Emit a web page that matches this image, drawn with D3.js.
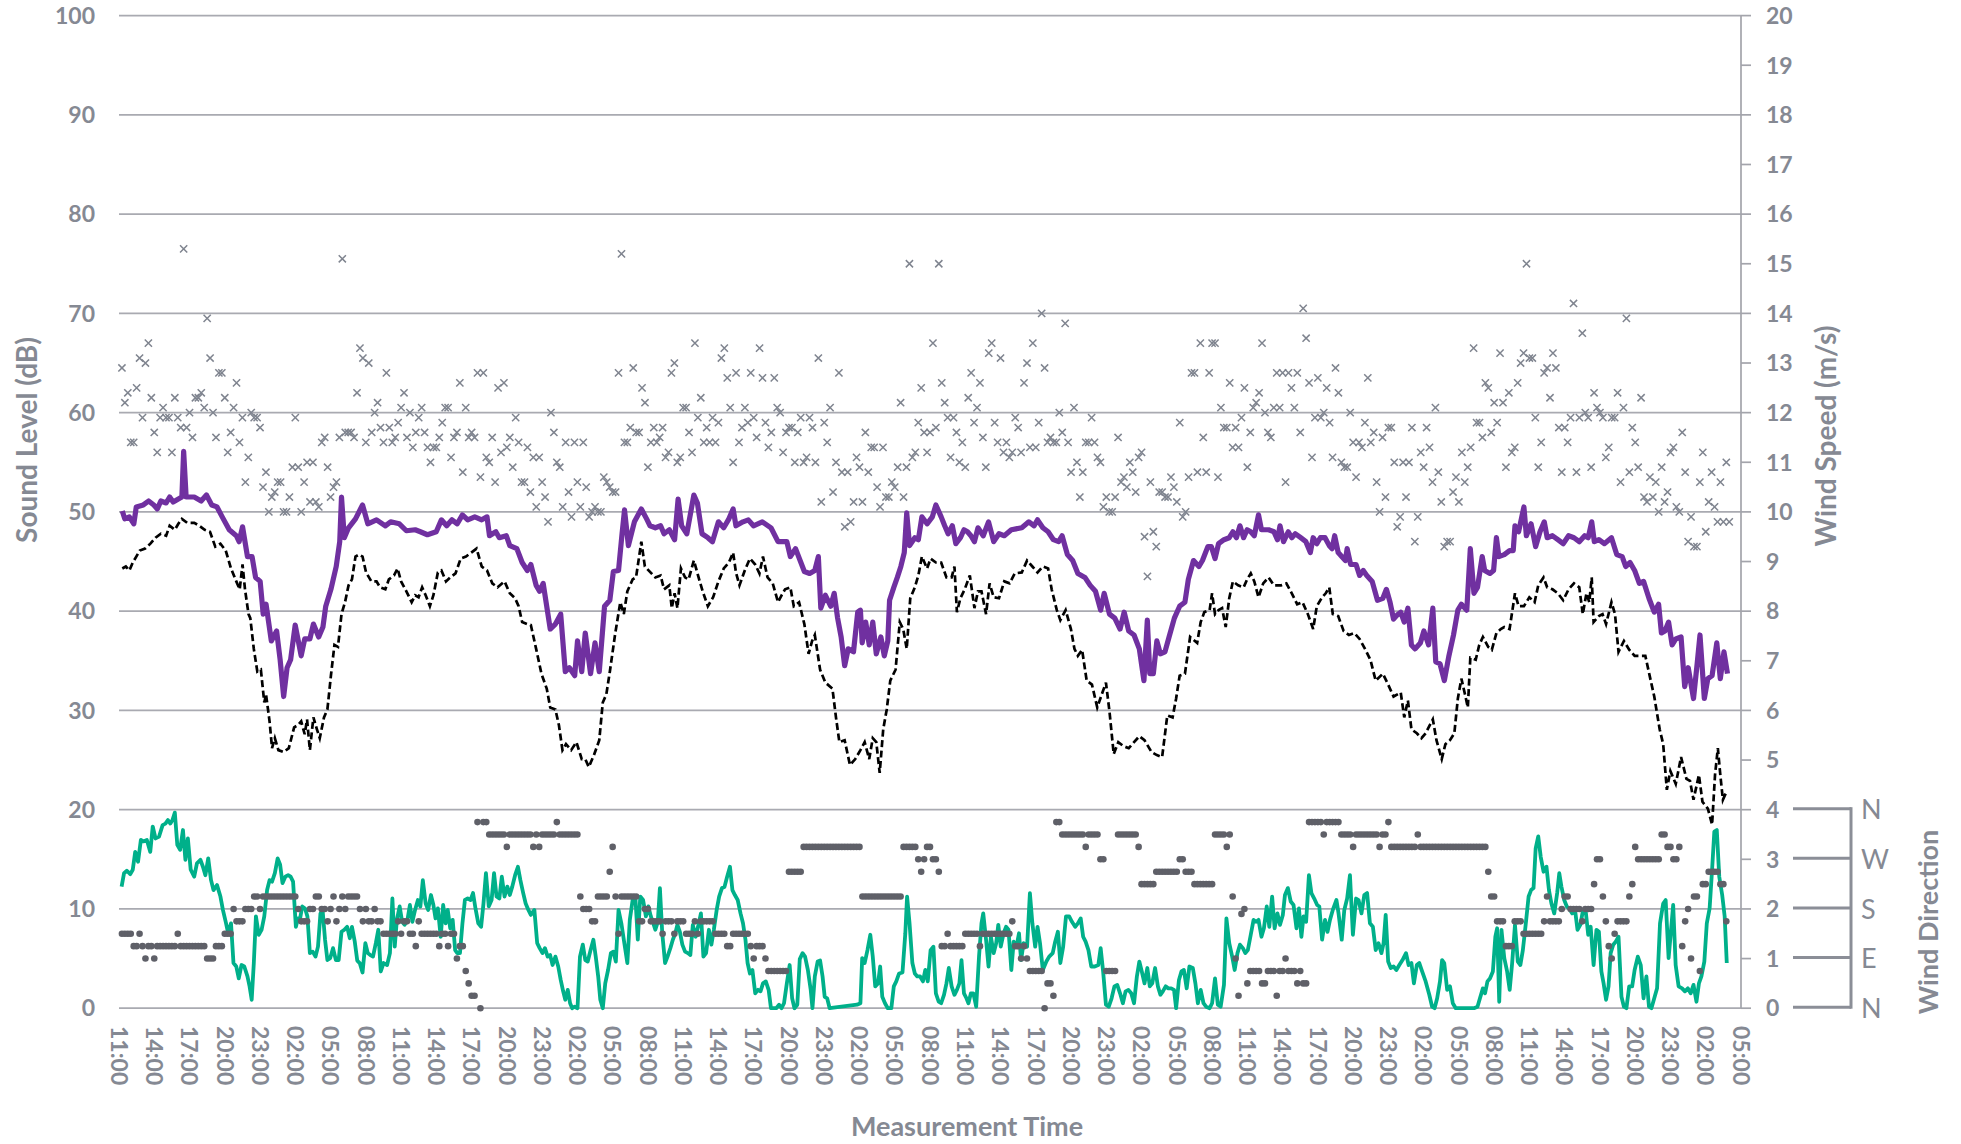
<!DOCTYPE html>
<html><head><meta charset="utf-8">
<script src="https://cdn.jsdelivr.net/npm/d3@7"></script>
<style>body{margin:0;background:#fff}svg{display:block}</style>
</head><body><svg id="c" width="1961" height="1144"></svg>
<script>
// ---------- DATA (hours since 11:00 on day 1) ----------
const xTickLabels = ["11:00","14:00","17:00","20:00","23:00","02:00","05:00","08:00",
"11:00","14:00","17:00","20:00","23:00","02:00","05:00","08:00",
"11:00","14:00","17:00","20:00","23:00","02:00","05:00","08:00",
"11:00","14:00","17:00","20:00","23:00","02:00","05:00","08:00",
"11:00","14:00","17:00","20:00","23:00","02:00","05:00","08:00",
"11:00","14:00","17:00","20:00","23:00","02:00","05:00"];
const leftTicks = [0,10,20,30,40,50,60,70,80,90,100];
const rightTicks = [0,1,2,3,4,5,6,7,8,9,10,11,12,13,14,15,16,17,18,19,20];
const dirTicks = [0,1,2,3,4];
const dirLabels = ["N","E","S","W","N"];

// Sound level, LAeq (dB) – [hour, dB]
const soundLevel = [[0.28,50.1],[0.49,49.3],[0.88,49.5],[1.26,48.8],[1.47,50.5],[2.07,50.7],[2.52,51.1],[2.96,50.7],[3.26,50.3],[3.56,51.1],[4.01,50.9],[4.31,51.5],[4.61,51.0],[5.05,51.3],[5.35,51.5],[5.50,56.1],[5.71,51.5],[6.40,51.5],[6.99,51.1],[7.44,51.7],[7.89,50.7],[8.34,50.5],[8.78,49.5],[9.38,48.2],[9.98,47.6],[10.22,47.0],[10.51,48.5],[10.93,45.5],[11.32,45.5],[11.62,43.4],[12.01,43.0],[12.27,39.7],[12.51,40.7],[12.96,37.0],[13.41,38.0],[13.71,35.1],[14.01,31.4],[14.30,34.3],[14.60,35.1],[14.99,38.6],[15.50,35.5],[15.80,37.2],[16.24,37.2],[16.54,38.7],[16.99,37.4],[17.35,38.4],[17.59,40.5],[18.03,42.2],[18.48,44.5],[18.78,47.0],[18.93,51.5],[19.17,47.4],[19.53,48.4],[20.12,49.3],[20.72,50.7],[21.17,48.8],[21.91,49.2],[22.66,48.6],[23.11,49.0],[23.85,48.8],[24.45,48.1],[25.20,48.2],[25.64,48.0],[26.24,47.7],[26.99,48.0],[27.43,49.2],[27.88,48.6],[28.33,49.2],[28.78,48.8],[29.22,49.7],[29.67,49.2],[30.27,49.5],[30.86,49.2],[31.31,49.5],[31.52,47.6],[32.06,48.0],[32.36,47.4],[32.95,47.6],[33.25,46.6],[33.85,46.3],[34.30,44.9],[34.74,44.1],[35.04,44.7],[35.49,42.6],[35.79,42.0],[36.09,42.8],[36.69,38.2],[37.13,38.7],[37.58,39.7],[37.97,33.9],[38.32,34.3],[38.77,33.5],[39.01,37.0],[39.37,33.9],[39.67,37.8],[40.12,33.7],[40.50,36.8],[40.86,33.9],[41.31,40.5],[41.76,41.1],[42.06,44.0],[42.50,44.1],[42.80,47.8],[43.01,50.2],[43.34,46.6],[43.85,49.0],[44.44,50.3],[44.89,49.3],
[45.18,48.6],[45.63,48.4],[46.08,48.6],[46.37,47.8],[46.82,48.2],[47.27,47.2],[47.57,51.3],[47.87,48.6],[48.31,47.8],[48.91,51.7],[49.21,50.9],[49.60,47.8],[50.10,47.4],[50.49,47.0],[51.00,49.0],[51.45,48.4],[51.89,49.3],[52.25,50.3],[52.49,48.6],[53.09,49.0],[53.54,49.2],[53.98,48.6],[54.73,49.0],[55.47,48.4],[56.07,47.0],[56.82,47.0],[57.12,45.5],[57.56,46.3],[58.31,44.0],[58.76,43.8],[59.20,44.1],[59.50,45.5],[59.71,40.3],[60.10,41.6],[60.55,40.5],[60.85,41.8],[61.14,39.3],[61.44,37.4],[61.74,34.5],[62.04,36.2],[62.49,35.9],[62.85,39.9],[63.08,40.1],[63.23,36.8],[63.53,38.9],[63.83,36.6],[64.13,38.9],[64.43,35.7],[64.82,37.4],[65.11,35.5],[65.41,37.0],[65.56,41.1],[65.92,42.4],[66.22,43.4],[66.52,44.5],[66.81,45.9],[67.02,49.9],[67.26,46.6],[67.71,47.4],[68.01,47.2],[68.31,49.5],[68.75,48.8],[69.20,49.5],[69.50,50.7],[69.95,49.5],[70.25,48.6],[70.54,47.8],[70.90,48.6],[71.20,46.8],[71.59,47.4],[71.89,48.2],[72.19,48.0],[72.48,47.6],[72.78,47.0],[73.08,48.4],[73.53,47.6],[73.98,49.0],[74.42,47.0],[74.87,47.8],[75.32,47.6],[75.92,48.2],[76.81,48.4],[77.41,49.0],[77.86,48.6],[78.15,49.2],[78.60,48.4],[79.05,48.0],[79.50,47.2],[79.94,47.0],[80.24,47.6],[80.69,45.7],[81.14,45.1],[81.58,43.8],[82.18,43.4],[82.63,42.6],[83.08,42.0],[83.52,40.1],[83.82,41.8],[84.27,39.7],[84.72,39.3],[85.17,38.2],[85.52,39.9],[85.91,38.0],[86.36,37.6],[86.81,36.2],[87.20,33.0],[87.49,39.1],[87.70,33.7],[88.00,33.7],[88.30,37.0],[88.60,35.7],[88.99,35.9],[89.34,37.4],[89.79,39.3],[90.24,40.5],[90.69,40.9],[90.98,43.2],
[91.42,45.1],[91.88,44.5],[92.18,45.1],[92.64,46.5],[92.94,46.5],[93.25,45.3],[93.55,46.8],[94.01,47.2],[94.46,47.4],[94.77,48.0],[95.07,47.4],[95.37,48.6],[95.68,47.4],[95.98,48.2],[96.29,48.0],[96.59,47.6],[96.95,49.7],[97.20,48.2],[97.81,48.2],[98.26,48.0],[98.56,47.2],[98.78,48.6],[99.08,47.0],[99.48,48.0],[99.78,47.4],[100.08,47.8],[100.54,47.4],[100.98,47.0],[101.36,45.9],[101.60,47.4],[101.91,46.8],[102.21,47.4],[102.61,47.4],[102.97,46.6],[103.21,46.3],[103.43,47.6],[103.73,45.9],[104.03,45.5],[104.34,45.1],[104.49,46.3],[104.79,44.7],[105.25,44.7],[105.55,43.6],[105.86,44.1],[106.16,43.6],[106.62,43.0],[107.07,41.1],[107.53,41.3],[107.83,42.2],[108.14,40.9],[108.44,39.2],[108.74,39.6],[109.05,39.9],[109.35,38.9],[109.66,40.3],[109.96,36.6],[110.26,36.2],[110.72,36.8],[111.02,38.0],[111.42,36.6],[111.78,40.3],[112.03,34.9],[112.39,34.7],[112.76,33.0],[113.15,35.5],[113.54,37.6],[113.91,40.1],[114.21,40.7],[114.67,40.1],[114.97,46.3],[115.28,41.8],[115.58,42.4],[115.98,45.5],[116.19,44.1],[116.64,43.8],[116.95,44.1],[117.19,47.4],[117.40,45.5],[117.86,45.7],[118.31,46.1],[118.62,46.1],[118.77,48.6],[119.08,48.0],[119.53,50.5],[119.74,47.6],[120.14,48.8],[120.53,46.5],[120.90,48.0],[121.26,49.0],[121.51,47.4],[121.96,47.6],[122.42,47.2],[122.87,46.8],[123.33,47.6],[123.79,47.4],[124.24,47.0],[124.70,47.6],[125.00,47.4],[125.30,49.0],[125.52,47.0],[125.91,47.2],[126.37,46.8],[126.98,47.4],[127.43,45.7],[127.89,45.5],[128.19,44.5],[128.56,44.9],[128.95,44.1],[129.35,42.8],[129.71,43.0],[130.17,41.3],[130.62,39.9],[130.99,40.7],[131.23,37.8],[131.53,38.0],[131.84,38.9],[132.14,36.6],[132.45,37.2],[132.90,37.4],[133.21,32.4],[133.51,34.3],[133.96,31.2],[134.27,34.7],[134.51,37.6],[134.88,31.2],[135.18,33.2],[135.54,33.5],[135.94,36.8],[136.24,33.2],[136.55,35.9],[136.85,33.7]];

// Background sound level, L90 (dB) – [hour, dB]
const backgroundLevel = [[0.28,44.3],[0.58,44.5],[0.88,44.1],[1.17,44.9],[1.47,45.5],[1.77,46.1],[2.22,46.3],[2.67,46.8],[3.11,47.4],[3.56,47.8],[4.01,47.6],[4.31,48.6],[4.75,48.2],[5.05,48.8],[5.35,49.3],[5.80,48.9],[6.40,48.9],[6.84,48.6],[7.29,48.2],[7.74,48.0],[8.19,46.5],[8.63,46.8],[9.08,46.1],[9.53,44.3],[9.98,43.0],[10.27,42.2],[10.51,44.7],[10.72,42.2],[11.02,39.7],[11.17,39.3],[11.47,36.2],[11.77,33.9],[12.07,34.1],[12.36,30.8],[12.51,31.6],[12.81,28.9],[13.02,26.2],[13.26,27.2],[13.56,26.0],[14.01,25.8],[14.45,26.2],[14.90,28.3],[15.20,28.5],[15.50,28.9],[15.80,27.6],[16.00,29.1],[16.24,26.0],[16.54,29.3],[16.84,28.1],[17.08,27.2],[17.44,29.3],[17.73,30.1],[18.03,33.5],[18.33,36.6],[18.63,36.4],[18.93,39.7],[19.23,40.9],[19.53,42.6],[19.82,43.2],[20.12,45.5],[20.42,45.7],[20.72,45.5],[21.02,43.9],[21.47,43.0],[21.91,43.0],[22.21,42.4],[22.66,42.2],[22.96,43.2],[23.40,43.6],[23.70,44.3],[24.00,43.0],[24.45,42.0],[24.90,40.9],[25.20,41.6],[25.49,41.4],[25.79,42.4],[26.09,41.6],[26.45,40.5],[26.75,41.6],[27.13,43.9],[27.43,44.1],[27.82,43.0],[28.18,43.4],[28.63,43.8],[29.07,45.3],[29.52,45.5],[29.97,45.9],[30.42,46.3],[30.86,44.5],[31.31,44.1],[31.76,42.8],[32.21,42.4],[32.80,43.0],[33.25,41.8],[33.70,41.3],[34.00,40.5],[34.30,38.9],[34.74,38.7],[35.04,38.6],[35.49,36.2],[35.94,33.7],[36.39,32.2],[36.69,30.3],[37.13,30.1],[37.43,28.5],[37.73,26.0],[38.03,26.6],[38.47,26.0],[38.92,26.8],[39.37,25.1],[39.67,25.1],[39.97,24.3],[40.41,25.5],[40.86,27.0],[41.16,30.8],[41.46,31.6],[41.76,33.9],[42.20,37.6],[42.65,40.9],[42.95,39.7],[43.25,42.0],[43.70,43.2],[43.99,43.4],[44.44,47.0],[44.74,44.5],
[45.63,43.4],[46.08,43.6],[46.37,42.2],[46.82,42.6],[47.03,40.3],[47.27,41.8],[47.51,40.3],[47.81,44.3],[48.16,43.4],[48.46,43.2],[48.91,45.1],[49.36,43.2],[49.66,42.0],[50.10,40.5],[50.55,41.4],[51.00,43.0],[51.45,44.3],[51.89,44.9],[52.25,45.9],[52.49,43.9],[52.79,42.6],[53.24,44.1],[53.68,45.3],[54.13,44.7],[54.49,43.8],[54.79,45.5],[55.18,43.4],[55.62,42.8],[56.07,40.9],[56.37,41.6],[56.67,42.2],[57.12,42.4],[57.41,40.5],[57.86,40.9],[58.31,38.7],[58.67,35.7],[58.97,37.0],[59.20,37.6],[59.65,34.1],[60.10,32.8],[60.70,32.2],[61.00,29.3],[61.29,26.8],[61.74,27.0],[62.19,24.5],[62.64,25.1],[63.08,26.0],[63.44,26.8],[63.83,25.1],[64.13,27.2],[64.43,26.8],[64.72,23.7],[65.02,28.1],[65.32,30.1],[65.62,33.0],[66.07,34.1],[66.43,38.9],[66.72,38.2],[67.02,36.2],[67.32,41.3],[67.71,42.4],[68.01,43.6],[68.31,45.5],[68.75,44.3],[69.05,45.3],[69.50,44.9],[69.95,44.9],[70.40,43.4],[70.84,43.4],[71.08,44.5],[71.29,39.9],[71.59,41.3],[71.95,42.2],[72.39,43.6],[72.78,40.3],[73.08,42.0],[73.38,42.0],[73.77,39.7],[74.07,42.8],[74.42,41.4],[74.87,41.3],[75.32,43.0],[75.77,42.8],[76.21,43.8],[76.81,43.9],[77.26,45.1],[77.71,44.5],[78.15,43.9],[78.60,44.5],[79.05,44.3],[79.35,42.2],[79.79,40.1],[80.09,39.1],[80.54,40.1],[80.99,38.2],[81.29,36.2],[81.58,35.5],[81.94,36.1],[82.33,33.0],[82.78,32.6],[83.23,30.3],[83.67,31.8],[83.97,32.8],[84.27,29.9],[84.63,25.6],[85.02,26.8],[85.46,26.4],[85.91,26.2],[86.36,26.8],[86.81,27.4],[87.25,27.0],[87.85,25.8],[88.30,25.5],[88.75,25.3],[89.19,29.5],[89.64,29.3],[89.94,31.2],[90.24,33.5],[90.69,33.7],[91.13,37.4],
[91.73,36.8],[92.03,38.9],[92.34,39.9],[92.79,40.1],[93.00,41.8],[93.25,39.7],[93.55,40.1],[93.85,40.3],[94.16,38.4],[94.46,41.3],[94.77,43.0],[95.22,42.6],[95.68,42.4],[95.98,43.2],[96.29,43.8],[96.59,43.0],[96.95,41.4],[97.35,42.8],[97.81,43.4],[98.26,42.6],[98.87,42.6],[99.32,42.8],[99.78,41.8],[100.24,40.7],[100.69,40.9],[101.15,39.7],[101.60,38.2],[101.91,40.5],[102.36,41.4],[102.67,41.8],[102.97,42.4],[103.27,39.7],[103.73,39.5],[104.19,38.0],[104.64,37.6],[105.10,37.8],[105.55,37.2],[106.01,36.2],[106.47,35.1],[106.92,33.0],[107.53,33.7],[107.98,32.6],[108.44,31.4],[109.05,31.8],[109.35,29.3],[109.66,31.0],[109.96,28.1],[110.42,27.7],[110.81,27.2],[111.17,27.7],[111.78,29.1],[112.09,27.0],[112.54,25.1],[112.85,26.6],[113.24,27.0],[113.61,27.7],[113.91,31.2],[114.21,33.2],[114.52,31.6],[114.76,30.3],[114.97,35.3],[115.43,35.1],[115.73,36.6],[116.04,37.4],[116.49,36.4],[116.80,36.1],[117.19,37.8],[117.56,38.2],[117.86,38.4],[118.31,38.2],[118.77,41.8],[119.08,40.5],[119.53,40.5],[119.99,41.4],[120.44,40.9],[120.75,42.6],[121.20,43.4],[121.51,42.4],[121.96,42.2],[122.42,41.8],[122.87,41.1],[123.33,42.2],[123.79,42.8],[124.24,42.4],[124.54,39.7],[124.85,41.8],[125.09,40.9],[125.30,43.4],[125.46,38.9],[125.91,39.5],[126.22,39.7],[126.52,38.7],[126.98,40.9],[127.28,39.7],[127.58,35.9],[128.04,37.0],[128.50,36.1],[128.95,35.5],[129.41,35.5],[129.86,35.5],[130.32,33.0],[130.62,31.4],[131.08,28.1],[131.38,26.6],[131.69,22.0],[131.99,23.9],[132.45,22.6],[132.90,25.3],[133.36,23.1],[133.66,22.9],[133.96,21.0],[134.42,23.5],[134.72,20.8],[135.18,20.1],[135.54,18.5],[135.79,23.5],[136.03,26.2],[136.24,23.5],[136.46,21.0],[136.76,21.8]];

// Wind speed at height (m/s), 15-minute samples starting 11:15
const windStartHour = 0.25, windStepHours = 0.25;
const windSpeedHigh = [12.9,12.2,12.4,11.4,11.4,12.5,13.1,11.9,13.0,13.4,12.3,11.6,11.2,11.9,12.1,11.9,11.9,11.2,12.3,11.9,11.7,15.3,11.7,12.0,11.5,12.3,12.3,12.4,12.1,13.9,13.1,12.0,11.5,12.8,12.8,12.3,11.2,11.6,12.1,12.6,11.4,11.9,10.6,11.1,12.0,11.9,11.9,11.7,10.5,10.8,10.0,10.3,10.4,10.6,10.6,10.0,10.0,10.3,10.9,11.9,10.9,10.0,10.6,11.0,10.2,11.0,10.2,10.1,11.4,11.5,10.9,10.3,10.5,10.6,11.5,15.1,11.6,11.6,11.6,11.5,12.4,13.3,13.1,11.4,13.0,11.6,12.0,12.2,11.7,11.4,12.8,11.7,11.4,11.5,11.8,12.1,12.4,11.5,12.0,11.3,11.6,11.9,12.1,11.6,11.3,11.0,11.3,11.3,11.5,11.8,12.1,12.1,11.1,11.5,11.6,12.6,10.8,12.1,11.5,11.6,11.5,12.8,10.7,12.8,11.1,11.0,11.5,10.6,12.5,11.2,12.6,11.3,11.5,10.9,11.9,11.4,10.6,10.6,11.3,10.4,11.1,10.1,11.1,10.6,10.3,9.8,12.0,11.6,11.0,10.9,10.1,11.4,10.4,9.9,11.4,10.6,10.1,11.4,10.5,9.9,10.0,10.1,10.0,10.0,10.7,10.6,10.5,10.4,10.4,12.8,15.2,11.4,11.4,11.7,12.9,11.6,11.6,12.5,12.2,10.9,11.4,11.7,
11.4,11.5,11.7,11.1,11.2,12.8,13.0,11.0,11.1,12.1,12.1,11.6,11.2,13.4,11.9,12.3,11.4,11.7,11.4,11.9,11.4,11.8,13.1,13.3,12.7,12.1,11.0,12.8,11.4,11.7,12.1,11.8,12.8,11.9,11.5,13.3,12.7,11.8,11.3,11.6,12.7,12.1,12.0,11.2,11.6,11.7,11.7,11.0,11.6,11.9,11.0,11.1,11.9,11.7,11.0,13.1,10.2,11.8,11.4,12.1,10.4,11.0,12.8,10.8,9.7,10.8,9.8,10.2,11.1,10.9,10.2,11.6,10.8,11.3,11.3,10.5,10.1,11.3,10.3,10.3,10.6,10.5,10.9,12.2,10.3,10.9,15.0,11.1,11.2,11.8,12.5,11.6,11.2,11.6,13.4,11.7,15.0,12.6,12.2,11.9,11.1,11.9,11.6,11.0,11.4,10.9,12.3,12.8,11.8,12.1,12.6,11.5,10.9,13.2,13.4,11.8,11.4,13.1,11.2,11.4,11.1,11.2,11.9,11.7,11.2,12.6,13.0,11.3,13.4,11.3,11.8,14.0,12.9,11.4,11.5,11.4,11.4,12.0,11.6,13.8,11.4,10.8,12.1,11.0,10.3,10.8,11.4,11.4,11.9,11.4,11.1,11.0,10.1,10.3,10.0,10.0,10.3,11.5,10.6,10.7,10.5,11.0,10.8,10.4,11.1,11.2,9.5,8.7,10.6,9.6,9.3,10.4,10.4,10.3,10.3,10.7,10.5,10.2,11.8,9.9,10.0,10.7,12.8,12.8,10.8,13.4,11.5,
10.8,12.8,13.4,13.4,10.7,12.1,11.7,11.7,12.6,11.3,11.7,11.3,11.9,12.5,10.9,11.6,12.1,12.2,12.4,13.4,12.0,11.6,11.5,12.1,12.8,12.1,12.8,10.6,12.8,12.5,12.1,12.8,11.6,14.1,13.5,12.6,11.1,11.9,12.7,11.9,12.0,12.5,11.8,11.1,12.9,12.4,11.0,10.9,10.9,12.0,11.4,10.7,11.4,11.3,11.8,12.7,11.4,11.6,10.6,10.0,11.5,10.3,11.7,11.7,11.0,9.7,9.9,11.0,10.3,11.0,11.7,9.4,9.9,11.2,10.9,11.7,11.3,10.6,12.1,10.8,10.2,9.3,9.4,9.4,10.4,10.7,10.2,11.2,10.6,10.9,11.3,13.3,11.8,11.8,11.5,12.6,12.5,11.6,12.2,11.8,13.2,12.2,10.9,12.4,11.2,11.3,12.6,13.0,13.2,15.0,13.1,13.1,11.9,10.9,11.4,12.8,12.9,12.3,13.2,12.9,11.7,10.8,11.7,11.4,11.9,14.2,10.8,11.9,13.6,12.0,11.9,10.9,12.4,12.1,12.0,11.9,11.1,11.3,11.9,11.9,12.4,10.6,12.1,13.9,10.8,11.7,11.4,10.9,12.3,10.3,10.2,10.7,10.3,10.6,10.0,10.9,10.2,10.4,11.2,11.3,10.1,10.0,11.6,10.8,9.4,9.9,9.3,9.3,10.6,11.2,9.6,10.2,10.8,10.1,9.8,10.6,9.8,11.0,9.8];

// Wind direction (0=N, 1=E, 2=S, 3=W, 4=N), same 15-minute samples
const windDirection = [1.5,1.5,1.5,1.5,1.25,1.25,1.5,1.25,1,1.25,
1.25,1,1.25,1.25,1.25,1.25,1.25,1.25,1.25,1.5,
1.25,1.25,1.25,1.25,1.25,1.25,1.25,1.25,1.25,1,
1,1,1.25,1.25,1.25,1.5,1.5,1.5,2,1.75,
1.75,1.75,2,2,2,2.25,2.25,2,2.25,2.25,
2.25,2.25,2.25,2.25,2.25,2.25,2.25,2.25,2.25,2.25,
2,1.75,1.75,1.75,2,2,2.25,2.25,2,2,
1.75,2,2.25,1.75,2,2.25,2,2.25,2.25,2.25,
2.25,2,1.75,2,1.75,1.75,2,1.75,1.75,1.5,
1.5,1.5,1.5,1.5,1.75,1.5,1.75,1.75,1.5,1.5,
1.25,1.75,1.5,1.5,1.5,1.5,1.5,1.5,1.25,1.5,
1.5,1.25,1.5,1.5,1,1.25,1.25,0.75,0.5,0.25,
0.25,3.75,0,3.75,3.75,3.5,3.5,3.5,3.5,3.5,
3.5,3.25,3.5,3.5,3.5,3.5,3.5,3.5,3.5,3.5,
3.25,3.5,3.25,3.5,3.5,3.5,3.5,3.5,3.75,3.5,
3.5,3.5,3.5,3.5,3.5,3.5,2.25,2,2,2,
1.75,1.75,2.25,2.25,2.25,2.25,2.75,3.25,2.25,1.5,
2.25,2.25,2.25,2.25,2.25,2.25,1.75,1.75,2,2,
1.75,1.75,1.75,1.75,1.5,1.75,1.75,1.75,1.5,1.75,
1.75,1.75,1.5,1.5,1.5,1.75,1.5,1.75,1.75,1.75,
1.75,1.75,1.5,1.5,1.5,1.5,1.25,1.25,1.5,1.5,
1.5,1.5,1.5,1.5,1.25,1,1.25,1.25,1.25,1,
0.75,0.75,0.75,0.75,0.75,0.75,0.75,2.75,2.75,2.75,
2.75,2.75,3.25,3.25,3.25,3.25,3.25,3.25,3.25,3.25,
3.25,3.25,3.25,3.25,3.25,3.25,3.25,3.25,3.25,3.25,
3.25,3.25,2.25,2.25,2.25,2.25,2.25,2.25,2.25,2.25,
2.25,2.25,2.25,2.25,2.25,2.25,3.25,3.25,3.25,3.25,
3.25,3,2.75,3,3.25,3.25,3,3,2.75,1.25,
1.25,1.5,1.25,1.25,1.25,1.25,1.25,1.5,1.5,1.5,
1.5,1.5,1.25,1.5,1.5,1.5,1.5,1.5,1.5,1.5,
1.5,1.5,1.5,1.75,1.25,1.25,1,1.25,1,0.75,
0.75,0.75,0.75,0.75,0,0.5,0.5,0.25,3.75,3.75,
3.5,3.5,3.5,3.5,3.5,3.5,3.5,3.5,3.25,3.5,
3.5,3.5,3.5,3,3,0.75,0.75,0.75,0.75,3.5,
3.5,3.5,3.5,3.5,3.5,3.5,3.25,2.5,2.5,2.5,
2.5,2.5,2.75,2.75,2.75,2.75,2.75,2.75,2.75,2.75,
3,3,2.75,2.75,2.75,2.5,2.5,2.5,2.5,2.5,
2.5,2.5,3.5,3.5,3.5,3.5,3.25,3.5,2.25,1,
0.25,1.9,2,0.5,0.75,0.75,0.75,0.75,0.5,0.5,
0.75,0.75,0.75,0.25,0.75,0.75,1,0.75,0.75,0.75,
0.5,0.75,0.5,0.5,3.75,3.75,3.75,3.75,3.75,3.5,
3.75,3.75,3.75,3.75,3.75,3.5,3.5,3.5,3.5,3.25,
3.5,3.5,3.5,3.5,3.5,3.5,3.5,3.5,3.25,3.5,
3.5,3.75,3.25,3.25,3.25,3.25,3.25,3.25,3.25,3.25,
3.25,3.5,3.25,3.25,3.25,3.25,3.25,3.25,3.25,3.25,
3.25,3.25,3.25,3.25,3.25,3.25,3.25,3.25,3.25,3.25,
3.25,3.25,3.25,3.25,3.25,2.75,2.25,2.25,1.75,1.75,
1.75,1.25,1.25,1.25,1.75,1.75,1.75,1.5,1.5,1.5,
1.5,1.5,1.5,1.5,1.75,2.25,1.75,1.75,1.75,1.75,
2,2.25,2.25,2,2,2,2,1.75,2,2,
2,2.5,3,3,2.25,1.75,1.25,1,1.5,1.75,
1.75,1.75,1.75,2.25,2.5,3.25,3,3,3,3,
3,3,3,3,3.5,3.5,3.25,3.25,3,3,
3.25,1.25,1.75,2,1,2.25,2.25,0.75,2.5,2.5,
2.75,2.75,2.75,2.75,2.5,2.5,1.75];

// Wind speed at ground (m/s) – [hour, m/s]
const windSpeedLow = [[0.22,2.45],[0.43,2.72],[0.67,2.77],[0.96,2.70],[1.17,2.79],[1.38,3.15],[1.62,2.95],[1.86,3.39],[2.07,3.36],[2.37,3.39],[2.66,3.15],[2.87,3.66],[3.11,3.42],[3.41,3.46],[3.71,3.69],[3.95,3.72],[4.16,3.79],[4.37,3.72],[4.55,3.79],[4.75,3.94],[4.96,3.29],[5.20,3.19],[5.44,3.59],[5.65,2.99],[5.86,3.42],[6.10,2.79],[6.40,2.65],[6.63,2.92],[6.93,2.99],[7.14,2.85],[7.35,2.68],[7.59,3.02],[7.83,2.58],[8.04,2.38],[8.34,2.48],[8.63,2.25],[8.84,1.98],[9.08,1.74],[9.29,1.51],[9.53,1.71],[9.74,0.91],[9.98,0.84],[10.19,0.60],[10.42,0.87],[10.66,0.84],[10.93,0.64],[11.11,0.44],[11.29,0.17],[11.47,0.91],[11.65,1.85],[11.89,1.48],[12.13,1.58],[12.36,1.85],[12.60,2.38],[12.81,2.58],[13.02,2.55],[13.26,2.72],[13.50,3.02],[13.71,2.89],[13.91,2.52],[14.15,2.65],[14.39,2.68],[14.60,2.65],[14.81,2.55],[15.05,1.64],[15.23,1.81],[15.41,1.81],[15.59,2.05],[15.83,2.01],[16.03,1.85],[16.24,1.11],[16.48,1.14],[16.72,1.04],[16.93,1.24],[17.14,1.91],[17.32,1.98],[17.53,1.38],[17.73,0.97],[17.97,1.01],[18.21,1.21],[18.45,0.97],[18.69,0.97],[18.93,1.54],[19.17,1.58],[19.41,1.64],[19.64,1.41],[19.82,1.64],[20.06,1.34],[20.27,0.96],[20.48,0.91],[20.72,0.72],[20.96,1.31],[21.17,1.11],[21.38,1.07],[21.61,1.04],[21.85,1.31],[22.06,1.58],[22.27,0.74],[22.51,0.91],[22.81,0.87],[23.05,1.11],[23.26,2.21],[23.46,1.24],[23.64,1.78],[23.88,2.05],[24.09,1.74],[24.30,1.68],[24.54,1.78],[24.75,2.08],[24.96,1.74],[25.19,1.98],[25.43,2.18],[25.64,2.05],[25.85,2.58],[26.09,2.11],[26.30,1.98],[26.54,2.28],[26.75,2.08],[26.93,1.81],[27.13,2.01],[27.37,1.44],[27.58,2.08],[27.79,1.71],[27.97,1.98],[28.18,1.61],[28.39,1.78],[28.60,1.17],[28.78,1.11],[29.01,1.11],[29.22,1.71],[29.43,2.18],[29.67,2.21],[29.91,2.18],[30.12,2.32],[30.33,2.01],[30.57,1.71],[30.81,1.64],[31.01,2.11],[31.22,2.72],[31.46,2.05],[31.70,2.18],[31.91,2.72],[32.12,2.25],[32.36,2.21],[32.57,2.65],[32.80,2.25],[33.04,2.45],[33.25,2.28],[33.46,2.45],[33.70,2.68],[33.94,2.85],[34.15,2.58],[34.39,2.32],[34.60,2.11],[34.83,1.98],[35.04,1.88],[35.34,1.98],[35.58,1.31],[35.79,1.21],[36.03,1.11],[36.24,1.21],[36.47,1.04],[36.68,1.07],[36.89,0.87],[37.13,1.04],[37.37,0.84],[37.58,0.57],[37.79,0.34],[37.97,0.17],[38.18,0.37],[38.38,0.10],[38.56,0],[38.77,0.03],[39.01,0],[39.22,1.04],[39.46,1.28],[39.67,0.97],[39.88,0.94],[40.12,1.17],[40.36,1.38],[40.56,1.04],[40.77,0.64],[40.95,0.17],[41.16,0],[41.37,0.50],[41.61,0.77],[41.85,1.11],[42.06,1.14],[42.27,0.94],[42.50,1.98],[42.74,1.71],[42.95,1.38],[43.25,0.91],[43.46,1.78],[43.70,2.18],[43.94,2.21],[44.14,1.38],[44.35,2.25],[44.59,2.18],[44.83,1.85],[45.04,2.05],[45.25,1.85],
[45.42,1.74],[45.63,1.58],[45.84,1.74],[46.02,2.42],[46.22,1.51],[46.46,0.91],[46.67,1.04],[46.91,1.21],[47.12,1.38],[47.33,1.51],[47.51,1.68],[47.72,1.54],[47.93,1.28],[48.16,1.14],[48.40,1.11],[48.61,1.07],[48.82,1.68],[49.06,1.44],[49.30,1.68],[49.51,1.91],[49.72,1.04],[49.95,1.11],[50.19,1.58],[50.40,1.28],[50.61,1.58],[50.85,1.98],[51.06,2.25],[51.30,2.42],[51.51,2.44],[51.74,2.65],[51.98,2.85],[52.19,2.38],[52.40,2.28],[52.64,2.18],[52.88,1.91],[53.09,1.71],[53.30,1.38],[53.48,0.91],[53.68,0.70],[53.89,0.77],[54.13,0.30],[54.37,0.37],[54.58,0.34],[54.79,0.50],[55.03,0.54],[55.27,0.37],[55.47,0],[55.68,0],[55.92,0],[56.16,0.07],[56.37,0],[56.58,0.10],[56.82,0.50],[57.06,0.87],[57.27,0.20],[57.47,0],[57.71,0.07],[57.92,0.99],[58.16,1.11],[58.37,1.04],[58.61,0.77],[58.85,0.37],[59.00,0],[59.20,0.64],[59.44,0.94],[59.65,0.96],[59.86,0.64],[60.04,0.23],[60.25,0.20],[60.46,0],[62.79,0.07],[63.08,0.10],[63.23,1.01],[63.44,0.91],[63.68,1.17],[63.92,1.48],[64.13,1.04],[64.34,0.44],[64.58,0.50],[64.76,0.84],[64.94,0.23],[65.17,0.10],[65.41,0],[65.71,0],[65.92,0.44],[66.13,0.54],[66.37,0.70],[66.66,0.72],[66.90,1.51],[67.05,2.25],[67.26,1.71],[67.50,0.91],[67.71,0.70],[67.92,0.64],[68.16,0.64],[68.40,0.54],[68.60,0.77],[68.81,0.54],[69.05,1.17],[69.29,1.24],[69.50,0.30],[69.74,0.13],[69.95,0.10],[70.19,0.27],[70.40,0.50],[70.60,0.81],[70.84,0.44],[71.08,0.27],[71.29,0.37],[71.50,0.50],[71.68,0.97],[71.89,0.30],[72.10,0.20],[72.27,0.10],[72.48,0.30],[72.69,0.30],[72.93,0.03],[73.17,1.04],[73.38,1.71],[73.53,1.91],[73.77,1.38],[73.98,0.84],[74.18,1.44],[74.42,1.11],[74.63,1.31],[74.81,1.68],[75.02,1.24],[75.26,1.51],[75.47,1.64],[75.68,1.58],[75.92,0.77],[76.12,1.34],[76.36,1.24],[76.57,1.51],[76.75,0.97],[76.96,1.31],[77.26,1.24],[77.50,2.32],[77.71,1.71],[77.95,1.24],[78.15,1.64],[78.36,1.31],[78.60,0.77],[78.90,0.94],[79.14,1.04],[79.44,1.11],[79.65,1.34],[79.88,1.54],[80.09,0.91],[80.33,1.24],[80.57,1.85],[80.84,1.85],[81.08,1.74],[81.35,1.64],[81.58,1.71],[81.82,1.81],[82.03,1.44],[82.24,1.34],[82.48,1.17],[82.72,0.84],[83.02,0.84],[83.32,0.87],[83.52,1.21],[83.73,0.74],[83.97,0.07],[84.21,0.03],[84.45,0.20],[84.69,0.44],[84.93,0.47],[85.17,0.30],[85.41,0.10],[85.64,0.34],[85.88,0.37],[86.12,0.30],[86.36,0.10],[86.60,0.64],[86.81,0.94],[87.02,0.74],[87.25,0.50],[87.49,0.81],[87.70,0.44],[87.91,0.50],[88.15,0.81],[88.39,0.44],[88.60,0.27],[88.81,0.34],[89.05,0.44],[89.28,0.40],[89.52,0.40],[89.76,0.37],[89.94,0],[90.18,0.57],[90.39,0.74],[90.60,0.77],[90.84,0.40],[91.07,0.84],
[91.36,0.81],[91.58,0.50],[91.79,0.10],[92.03,0.37],[92.27,0.10],[92.49,0.03],[92.79,0],[93.00,0.10],[93.25,0.60],[93.49,0.07],[93.73,0.03],[94.01,0.47],[94.22,1.81],[94.46,1.31],[94.71,1.04],[94.92,0.77],[95.16,1.11],[95.37,1.28],[95.62,1.21],[95.83,1.11],[96.04,1.17],[96.29,1.48],[96.53,1.78],[96.74,1.74],[96.95,1.78],[97.20,1.44],[97.41,1.61],[97.65,2.05],[97.87,1.64],[98.11,2.25],[98.32,1.61],[98.56,1.91],[98.78,1.68],[99.02,1.88],[99.20,2.28],[99.45,2.42],[99.69,2.15],[99.93,2.08],[100.18,1.61],[100.39,2.01],[100.60,1.44],[100.78,1.85],[101.00,1.74],[101.24,2.68],[101.45,2.32],[101.69,2.21],[101.94,2.08],[102.12,2.05],[102.36,1.38],[102.61,1.78],[102.82,1.54],[103.03,1.78],[103.27,1.98],[103.58,2.18],[103.76,1.91],[104.03,1.38],[104.25,1.98],[104.49,2.21],[104.73,2.68],[104.98,1.48],[105.25,2.21],[105.46,2.18],[105.71,1.91],[105.95,2.28],[106.19,2.32],[106.43,1.71],[106.68,1.64],[106.92,1.17],[107.16,1.31],[107.41,1.11],[107.59,1.31],[107.77,1.88],[107.98,0.94],[108.20,0.81],[108.44,0.84],[108.68,0.77],[108.93,0.87],[109.20,0.97],[109.50,1.11],[109.72,0.87],[109.96,0.91],[110.17,0.50],[110.42,0.87],[110.63,0.91],[110.87,0.74],[111.17,0.54],[111.48,0.27],[111.72,0.03],[111.93,0],[112.15,0.20],[112.39,0.54],[112.57,0.97],[112.75,0.91],[113.00,0.37],[113.24,0.44],[113.48,0.10],[113.73,0],[115.28,0],[115.58,0.03],[115.79,0.20],[116.04,0.40],[116.22,0.30],[116.43,0.54],[116.64,0.60],[116.89,0.74],[117.10,1.44],[117.25,1.61],[117.43,0.13],[117.62,1.58],[117.86,1.01],[118.10,0.74],[118.32,0.37],[118.53,0.91],[118.77,1.68],[119.01,0.94],[119.23,0.87],[119.44,1.17],[119.68,1.68],[119.93,2.25],[120.14,2.38],[120.35,2.42],[120.53,3.22],[120.75,3.46],[120.96,3.05],[121.20,2.75],[121.45,2.85],[121.66,2.38],[121.87,2.11],[122.11,1.91],[122.36,2.32],[122.54,2.72],[122.72,2.45],[122.96,2.18],[123.18,2.05],[123.39,2.01],[123.63,1.91],[123.88,1.98],[124.09,1.58],[124.33,1.68],[124.54,1.95],[124.79,1.95],[125.00,1.48],[125.21,1.64],[125.46,0.87],[125.70,1.58],[125.91,1.54],[126.12,0.74],[126.31,0.50],[126.52,0.17],[126.73,0.44],[126.91,1.11],[127.13,1.28],[127.34,1.34],[127.58,1.44],[127.83,0.23],[128.04,0.03],[128.25,0],[128.49,0.44],[128.74,0.44],[128.95,0.77],[129.22,1.04],[129.47,0.87],[129.71,0.20],[129.95,0.64],[130.17,0.03],[130.38,0],[130.62,0.20],[130.86,0.40],[131.11,1.71],[131.38,2.11],[131.59,2.18],[131.84,1.01],[132.05,1.58],[132.23,2.08],[132.44,0.87],[132.69,0.44],[132.99,0.40],[133.23,0.34],[133.48,0.40],[133.72,0.30],[133.96,0.47],[134.21,0.13],[134.42,0.50],[134.63,0.64],[134.88,0.94],[135.09,1.71],[135.33,2.01],[135.54,2.79],[135.73,3.56],[135.94,3.59],[136.15,2.65],[136.40,2.28],[136.61,1.85],[136.79,0.91]];

// ---------- DRAW ----------
const svg = d3.select("#c");
const axisGrey = "#858993", gridGrey = "#a9aab1";
const font = "Lato, 'Open Sans', sans-serif";
const plot = {left:119, right:1741, top:15.6, bottom:1008.2};
const x = d3.scaleLinear().domain([0,138]).range([plot.left, plot.right]);
const yL = d3.scaleLinear().domain([0,100]).range([plot.bottom, plot.top]);
const yR = d3.scaleLinear().domain([0,20]).range([plot.bottom, plot.top]);

// grid
svg.append("g").selectAll("line").data(leftTicks).join("line")
  .attr("x1", plot.left).attr("x2", plot.right)
  .attr("y1", d=>yL(d)).attr("y2", d=>yL(d))
  .attr("stroke", gridGrey).attr("stroke-width", 1.7);

// left labels
svg.append("g").selectAll("text").data(leftTicks).join("text")
  .attr("x", 95).attr("y", d=>yL(d)).attr("dy","0.36em")
  .attr("text-anchor","end").attr("font-family",font).attr("font-weight",700)
  .attr("font-size",23).attr("fill",axisGrey).text(d=>d);

// right axis
const gR = svg.append("g");
gR.append("line").attr("x1",plot.right).attr("x2",plot.right).attr("y1",yR(20)).attr("y2",yR(0))
  .attr("stroke","#a3a4ab").attr("stroke-width",1.7);
gR.selectAll(".tk").data(rightTicks).join("line").attr("class","tk")
  .attr("x1",plot.right).attr("x2",plot.right+10).attr("y1",d=>yR(d)).attr("y2",d=>yR(d))
  .attr("stroke","#a3a4ab").attr("stroke-width",1.7);
gR.selectAll("text").data(rightTicks).join("text")
  .attr("x", plot.right+25).attr("y", d=>yR(d)).attr("dy","0.36em")
  .attr("font-family",font).attr("font-weight",700).attr("font-size",23)
  .attr("fill",axisGrey).text(d=>d);

// wind direction bracket
const gD = svg.append("g");
gD.selectAll("line.h").data(dirTicks).join("line").attr("class","h")
  .attr("x1",1793).attr("x2",1851).attr("y1",d=>yR(d)-1).attr("y2",d=>yR(d)-1)
  .attr("stroke","#8b8e97").attr("stroke-width",3);
gD.append("line").attr("x1",1851).attr("x2",1851).attr("y1",yR(4)-2.5).attr("y2",yR(0)+0.5)
  .attr("stroke","#8b8e97").attr("stroke-width",3);
gD.selectAll("text").data(dirTicks).join("text")
  .attr("x",1861).attr("y",d=>yR(d)).attr("dy","0.36em")
  .attr("font-family",font).attr("font-weight",400).attr("font-size",27)
  .attr("fill",axisGrey).text((d,i)=>dirLabels[i]);

// x tick labels
svg.append("g").selectAll("text").data(xTickLabels).join("text")
  .attr("transform",(d,i)=>`translate(${x(i*3)},1026) rotate(90)`)
  .attr("dy","0.36em").attr("text-anchor","start")
  .attr("font-family",font).attr("font-weight",700).attr("font-size",23)
  .attr("fill",axisGrey).text(d=>d);

// titles
const title = (t,xx,yy,rot,fs)=>svg.append("text")
  .attr("transform",`translate(${xx},${yy}) rotate(${rot})`)
  .attr("text-anchor","middle").attr("dy","0.36em")
  .attr("font-family",font).attr("font-weight",700).attr("font-size",fs)
  .attr("fill",axisGrey).text(t);
title("Sound Level (dB)",27,440,-90,28);
title("Wind Speed (m/s)",1826,436,-90,28);
title("Wind Direction",1928,922,-90,27);
title("Measurement Time",967,1126,0,27);

// wind speed high: x markers
const windT = windSpeedHigh.map((v,i)=>windStartHour + i*windStepHours);
const s = 3.6;
svg.append("g").selectAll("path").data(windSpeedHigh).join("path")
  .attr("d",(v,i)=>{const cx=x(windT[i]), cy=yR(v);
     return `M${cx-s},${cy-s}L${cx+s},${cy+s}M${cx-s},${cy+s}L${cx+s},${cy-s}`;})
  .attr("stroke","#7f848f").attr("stroke-width",1.5).attr("fill","none");

// background (dashed)
svg.append("path").datum(backgroundLevel)
  .attr("d", d3.line().x(d=>x(d[0])).y(d=>yL(d[1])))
  .attr("fill","none").attr("stroke","#000").attr("stroke-width",2.7)
  .attr("stroke-dasharray","7,3.5");

// sound level
svg.append("path").datum(soundLevel)
  .attr("d", d3.line().x(d=>x(d[0])).y(d=>yL(d[1])))
  .attr("fill","none").attr("stroke","#7030a0").attr("stroke-width",5.2)
  .attr("stroke-linejoin","round");

// wind speed low
svg.append("path").datum(windSpeedLow)
  .attr("d", d3.line().x(d=>x(d[0])).y(d=>yR(d[1])))
  .attr("fill","none").attr("stroke","#00b08a").attr("stroke-width",3.8)
  .attr("stroke-linejoin","round");

// wind direction dots
svg.append("g").selectAll("circle").data(windDirection).join("circle")
  .attr("cx",(v,i)=>x(windStartHour + i*windStepHours)).attr("cy",v=>yR(v))
  .attr("r",3.3).attr("fill","#5f6068");
</script></body></html>
